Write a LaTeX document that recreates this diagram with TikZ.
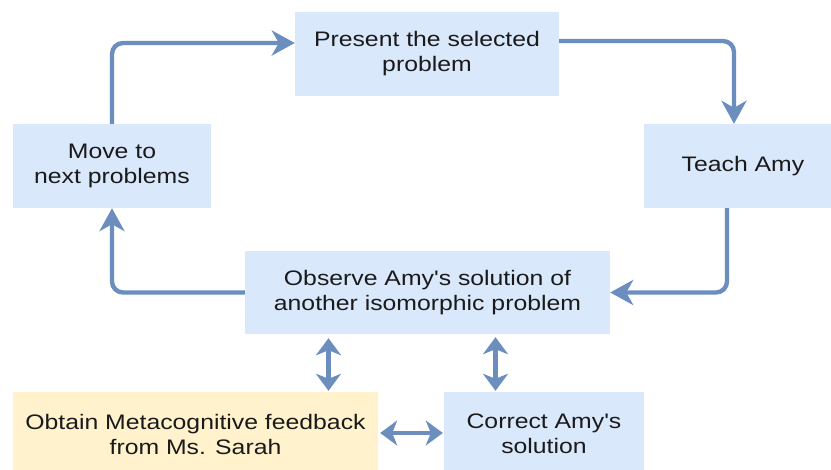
\documentclass[tikz,border=0pt]{standalone}
\usepackage{fontspec}
\newfontfamily\boxfont{Liberation Sans}[FakeStretch=1.18]
\usetikzlibrary{arrows.meta}
\definecolor{boxblue}{HTML}{DAE8FC}
\definecolor{boxyellow}{HTML}{FFF2CC}
\definecolor{arrowblue}{HTML}{6C8EBF}
\definecolor{txt}{HTML}{1A1A1A}
\tikzset{
  stepbox/.style={fill=boxblue, draw=none, align=center, inner sep=0pt,
    text=txt, font=\boxfont\fontsize{21}{25}\selectfont},
  notebox/.style={stepbox, fill=boxyellow},
  arr/.style={draw=arrowblue, line width=4.4pt, rounded corners=11pt,
    -{Stealth[length=23pt,width=25pt,inset=7pt]}},
  darr/.style={draw=arrowblue, line width=4.4pt,
    {Stealth[length=17pt,width=25pt,inset=5pt]}-{Stealth[length=17pt,width=25pt,inset=5pt]}}
}
\begin{document}
\begin{tikzpicture}[x=1pt,y=-1pt]
\useasboundingbox (0,0) rectangle (831,470);
\clip (0,0) rectangle (831,470);
\fill[white] (0,0) rectangle (831,470);

\node[stepbox, minimum width=264pt, minimum height=84pt] (present) at (427,54) {Present the selected\\problem};
\node[stepbox, minimum width=198pt, minimum height=84pt] (move) at (112,166) {Move to\\next problems};
\node[stepbox, minimum width=198pt, minimum height=84pt] (teach) at (743,166) {Teach Amy};
\node[stepbox, minimum width=365pt, minimum height=83pt] (observe) at (427.5,292.5) {Observe Amy's solution of\\another isomorphic problem};
\node[notebox, minimum width=365pt, minimum height=84pt] (obtain) at (195.5,434) {Obtain Metacognitive feedback\\from Ms. Sarah};
\node[stepbox, minimum width=200pt, minimum height=84pt] (correct) at (544,434) {Correct Amy's\\solution};

\draw[arr] (move.north) |- ([yshift=11pt]present.west);
\draw[arr] ([yshift=13pt]present.east) -| ([xshift=-9pt]teach.north);
\draw[arr] ([xshift=-16pt]teach.south) |- (observe.east);
\draw[arr] (observe.west) -| (move.south);

\draw[darr, shorten <=4pt, shorten >=1pt] ([xshift=-99pt]observe.south) -- ([xshift=-99pt]observe.south |- obtain.north);
\draw[darr, shorten <=3pt, shorten >=1pt] ([xshift=68pt]observe.south) -- ([xshift=68pt]observe.south |- correct.north);
\draw[darr, shorten <=2pt, shorten >=1pt] ([yshift=1pt]obtain.east) -- ([yshift=1pt]obtain.east -| correct.west);
\end{tikzpicture}
\end{document}
